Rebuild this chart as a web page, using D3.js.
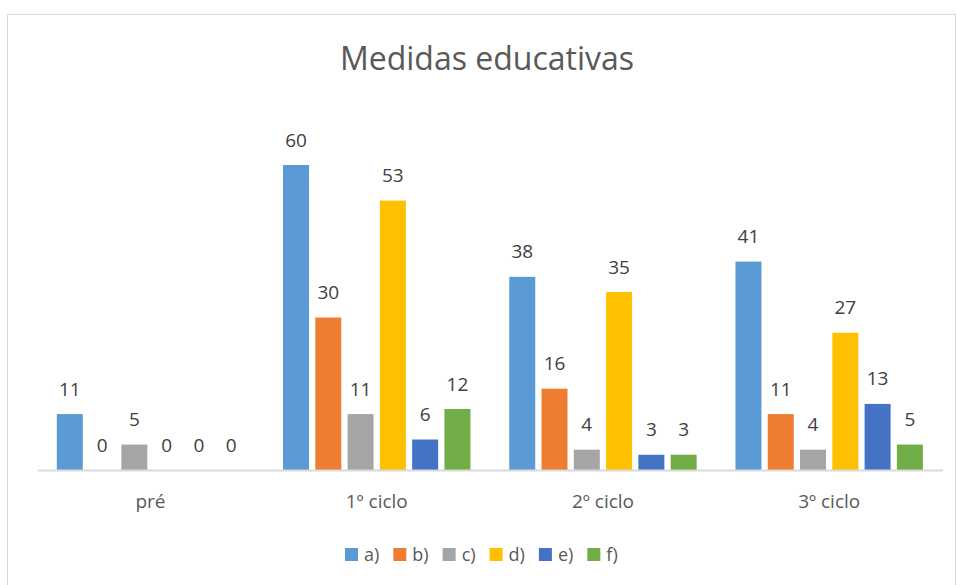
<!DOCTYPE html>
<html>
<head>
<meta charset="utf-8">
<title>Medidas educativas</title>
<script src="https://d3js.org/d3.v7.min.js"></script>
<style>
  body { margin: 0; background: #fff; }
  text { font-family: "Open Sans", "Noto Sans", sans-serif; }
</style>
</head>
<body>
<div id="chart"></div>
<script>
// data
var categories = ['pré', '1º ciclo', '2º ciclo', '3º ciclo'];
var seriesNames = ['a)', 'b)', 'c)', 'd)', 'e)', 'f)'];
var seriesColors = ['#5B9BD5', '#ED7D31', '#A5A5A5', '#FFC000', '#4472C4', '#70AD47'];
var valuesA = [11, 60, 38, 41];
var valuesB = [0, 30, 16, 11];
var valuesC = [5, 11, 4, 4];
var valuesD = [0, 53, 35, 27];
var valuesE = [0, 6, 3, 13];
var valuesF = [0, 12, 3, 5];
var allValues = [valuesA, valuesB, valuesC, valuesD, valuesE, valuesF];

var w = 957, h = 585;
var svg = d3.select('#chart').append('svg')
  .attr('width', w)
  .attr('height', h);

// chart frame
svg.append('rect')
  .attr('x', 7.5).attr('y', 14.5)
  .attr('width', 948).attr('height', 580)
  .attr('fill', '#fff')
  .attr('stroke', '#D9D9D9');

// title
svg.append('text')
  .attr('x', 487).attr('y', 70)
  .attr('text-anchor', 'middle')
  .attr('font-size', '32px')
  .attr('fill', '#595959')
  .text('Medidas educativas');

// scales
var x0 = d3.scaleBand().domain(categories).range([37.4, 942.3]);
var x1 = d3.scaleBand().domain(seriesNames).range([19.4, 206.8]).paddingInner(0.195);
var y = d3.scaleLinear().domain([0, 60]).range([470, 165]);

// one row per bar
var rows = [];
categories.forEach(function(c, ci) {
  seriesNames.forEach(function(s, si) {
    rows.push({cat: c, s: s, v: allValues[si][ci], color: seriesColors[si]});
  });
});

// bars
svg.selectAll('rect.bar')
  .data(rows)
  .enter()
  .append('rect')
  .attr('class', 'bar')
  .attr('x', function(d) { return x0(d.cat) + x1(d.s); })
  .attr('y', function(d) { return y(d.v); })
  .attr('width', x1.bandwidth())
  .attr('height', function(d) { return y(0) - y(d.v); })
  .attr('fill', function(d) { return d.color; });

// value labels
svg.selectAll('text.val')
  .data(rows)
  .enter()
  .append('text')
  .attr('class', 'val')
  .attr('x', function(d) { return x0(d.cat) + x1(d.s) + x1.bandwidth() / 2; })
  .attr('y', function(d) { return y(d.v) - 18.5; })
  .attr('text-anchor', 'middle')
  .attr('font-size', '19px')
  .attr('fill', '#404040')
  .text(function(d) { return d.v; });

// x axis
var xAxis = svg.append('g')
  .attr('transform', 'translate(0,' + y(0) + ')')
  .call(d3.axisBottom(x0).tickSize(0).tickPadding(25));
xAxis.select('.domain').attr('stroke', '#D9D9D9').attr('stroke-width', 2);
xAxis.selectAll('text')
  .attr('font-size', '19px')
  .attr('fill', '#595959')
  .attr('font-family', '"Open Sans", "Noto Sans", sans-serif');

// legend
var legend = svg.append('g');
var lx = 345;
seriesNames.forEach(function(s, i) {
  legend.append('rect')
    .attr('x', lx).attr('y', 548)
    .attr('width', 13).attr('height', 13)
    .attr('fill', seriesColors[i]);
  var t = legend.append('text')
    .attr('x', lx + 19).attr('y', 561)
    .attr('font-size', '18px')
    .attr('fill', '#595959')
    .text(s);
  lx += 19 + t.node().getComputedTextLength() + 14;
});
</script>
</body>
</html>
